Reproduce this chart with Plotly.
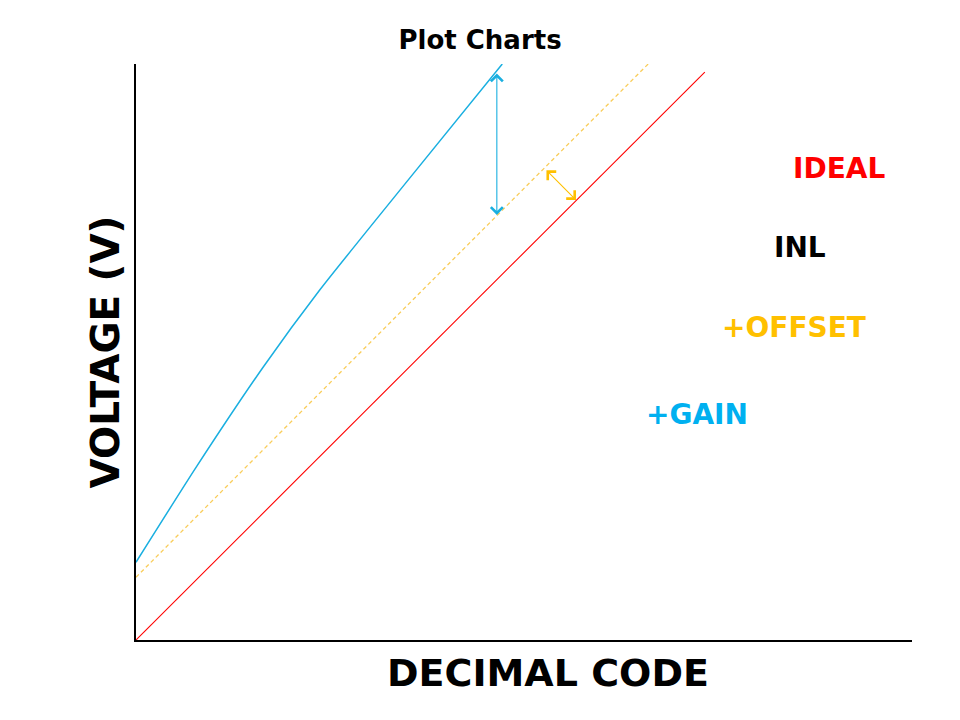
import plotly.graph_objects as go

# ---- data ----
ideal_x = [0, 73.3]
ideal_y = [0, 98.6]

offset_x = [0, 66.0]
offset_y = [10.9, 100.0]

gain_x = [0, 7.8, 16.4, 23.7, 35.4, 47.2]
gain_y = [13.5, 30.1, 47.4, 60.8, 80.4, 100.0]

# gain error arrow (between +GAIN and +OFFSET lines)
gain_arrow_x = [46.5, 46.5]
gain_arrow_y = [98.6, 73.8]

# offset error arrow (between +OFFSET and IDEAL lines)
offset_arrow_x = [52.7, 56.7]
offset_arrow_y = [81.8, 76.4]

label_text = ["IDEAL", "INL", "+OFFSET", "+GAIN"]
label_x = [90.6, 85.6, 84.8, 72.3]
label_y = [81.9, 68.2, 54.3, 39.2]
label_color = ["#FF0000", "#000000", "#FFC000", "#00B0F0"]

RED = "#FF0000"
GOLD = "#FFC000"
BLUE = "#1AAFE0"
FONT = "DejaVu Sans"

fig = go.Figure()
fig.add_trace(go.Scatter(x=ideal_x, y=ideal_y, mode="lines",
                         line=dict(color=RED, width=1.1), showlegend=False, hoverinfo="skip"))
fig.add_trace(go.Scatter(x=offset_x, y=offset_y, mode="lines",
                         line=dict(color="#F9CD5A", width=1.3, dash="4px,3px"),
                         showlegend=False, hoverinfo="skip"))
fig.add_trace(go.Scatter(x=gain_x, y=gain_y, mode="lines",
                         line=dict(color=BLUE, width=1.5, shape="spline", smoothing=0.6),
                         showlegend=False, hoverinfo="skip"))

annotations = []
for ax_, ay_, col in [(gain_arrow_x, gain_arrow_y, BLUE), (offset_arrow_x, offset_arrow_y, GOLD)]:
    annotations.append(dict(
        x=ax_[1], y=ay_[1], ax=ax_[0], ay=ay_[0],
        xref="x", yref="y", axref="x", ayref="y",
        showarrow=True, arrowhead=4, startarrowhead=4, arrowside="end+start",
        arrowsize=2.1, startarrowsize=2.1, arrowwidth=1.1, arrowcolor=col, text=""))

for t, x, y, c in zip(label_text, label_x, label_y, label_color):
    annotations.append(dict(x=x, y=y, xref="x", yref="y", text=t, showarrow=False,
                            font=dict(family=FONT, size=28, color=c, weight="bold")))

# x axis title placed as annotation (it is offset right of the plot centre)
annotations.append(dict(x=0.531, y=-0.057, xref="paper", yref="paper",
                        xanchor="center", yanchor="middle", showarrow=False,
                        text="<b>DECIMAL CODE</b>",
                        font=dict(family=FONT, size=38, color="black")))

fig.update_layout(
    width=960, height=720,
    paper_bgcolor="white", plot_bgcolor="white",
    margin=dict(l=128, r=56, t=56, b=88),
    title=dict(text="<b>Plot Charts</b>", x=0.4917, xanchor="center", y=0.9556, yanchor="middle",
               font=dict(family=FONT, size=26, color="black")),
    xaxis=dict(range=[0, 100], showgrid=False, zeroline=False, showticklabels=False,
               ticks="", showline=True, linecolor="black", linewidth=1.5),
    yaxis=dict(range=[0, 100], showgrid=False, zeroline=False, showticklabels=False,
               ticks="", showline=True, linecolor="black", linewidth=1.5,
               title=dict(text="<b>VOLTAGE (V)</b>", standoff=3,
                          font=dict(family=FONT, size=39, color="black"))),
    annotations=annotations,
)

fig.write_html("out.html")
